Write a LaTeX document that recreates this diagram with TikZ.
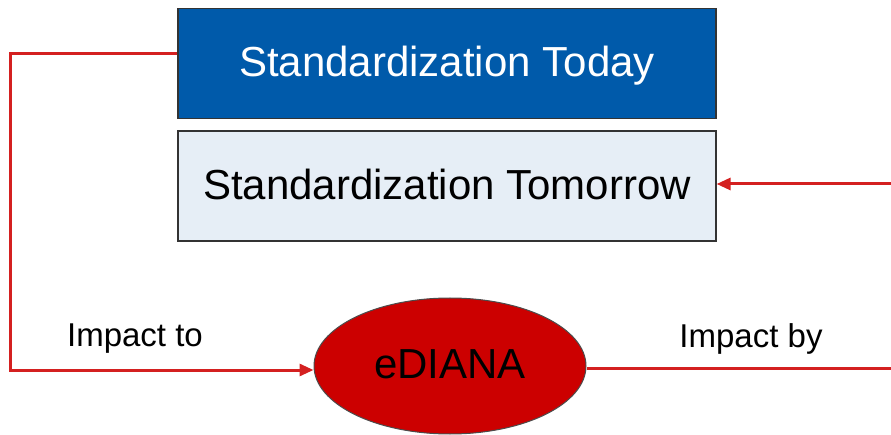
\documentclass[tikz,border=0pt]{standalone}
\usepackage{fontspec}
\setmainfont{Liberation Sans}
\usetikzlibrary{arrows.meta,shapes.geometric}
\definecolor{boxblue}{HTML}{005AAA}
\definecolor{boxlight}{HTML}{E6EEF6}
\definecolor{linered}{HTML}{D42020}
\definecolor{ellred}{HTML}{CC0000}
\begin{document}
\begin{tikzpicture}[x=1pt,y=-1pt,
  boxstyle/.style={draw=black!80,line width=1.2pt,minimum width=538pt,minimum height=110pt,inner sep=0pt,text depth=0pt,font=\fontsize{42}{44}\selectfont},
  conn/.style={draw=linered,line width=3pt},
  arr/.style={-{Triangle[length=14pt,width=12pt]}},
  lbl/.style={font=\fontsize{33}{36}\selectfont,inner sep=0pt,anchor=base}]
\useasboundingbox (0,0) rectangle (891,435);
\node[boxstyle,fill=boxblue,text=white,text height=27pt] (today) at (447,63.5) {Standardization Today};
\node[boxstyle,fill=boxlight,text=black,text height=28pt] (tomorrow) at (447,186) {Standardization Tomorrow};
\node[ellipse,draw=black!70,line width=1pt,fill=ellred,minimum width=272pt,minimum height=136pt,inner sep=0pt,text height=24pt,text depth=0pt,font=\fontsize{42}{44}\selectfont] (ediana) at (450,366) {eDIANA};
\coordinate (c1) at (10,54);
\coordinate (c2) at (10,370);
\coordinate (c3) at (898,368);
\coordinate (c4) at (898,184);
\draw[conn,arr] (today.west |- c1) -- (c1) -- (c2) -- (c2 -| ediana.west);
\draw[conn,arr] (ediana.east |- c3) -- (c3) -- (c4) -- (c4 -| tomorrow.east);
\node[lbl] (impto) at (135,346) {Impact to};
\node[lbl] (impby) at (751,348) {Impact by};
\end{tikzpicture}
\end{document}
